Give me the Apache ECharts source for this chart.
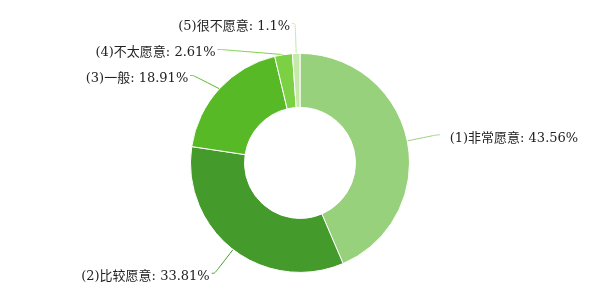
<!DOCTYPE html>
<html><head><meta charset="utf-8">
<script src="https://cdn.jsdelivr.net/npm/echarts@6/dist/echarts.min.js"></script>
<style>html,body{margin:0;padding:0;background:#fff}#c{width:600px;height:300px}</style>
</head><body><div id="c"></div>
<script>
const categories = ['(1)非常愿意', '(2)比较愿意', '(3)一般', '(4)不太愿意', '(5)很不愿意'];
const values = [43.56, 33.81, 18.91, 2.61, 1.1];
const colors = ['#98d17b', '#449a2a', '#58b927', '#7bd043', '#c4e9a8'];

const textStyle = {
  color: '#222',
  fontSize: 13,
  fontFamily: '"DejaVu Serif", "Noto Sans CJK SC", serif'
};

const chart = echarts.init(document.getElementById('c'), null, {renderer: 'canvas'});
chart.setOption({
  animation: false,
  series: [{
    type: 'pie',
    radius: ['37%', '73%'],
    center: ['50%', '54.3%'],
    startAngle: 90,
    clockwise: true,
    itemStyle: {borderColor: '#fff', borderWidth: 1},
    label: {
      formatter: p => (p.dataIndex === 0 ? '{r|' : '{t|') + p.name + ': ' + p.value + '%}',
      distanceToLabelLine: 2,
      minMargin: 13,
      rich: {
        t: Object.assign({padding: [8, 0, 1, 0]}, textStyle),
        r: Object.assign({padding: [8, 0, 1, 8]}, textStyle)
      }
    },
    labelLine: {smooth: true, length: 30, length2: 3},
    data: categories.map((n, i) => ({name: n, value: values[i], itemStyle: {color: colors[i]}}))
  }]
});
</script></body></html>
